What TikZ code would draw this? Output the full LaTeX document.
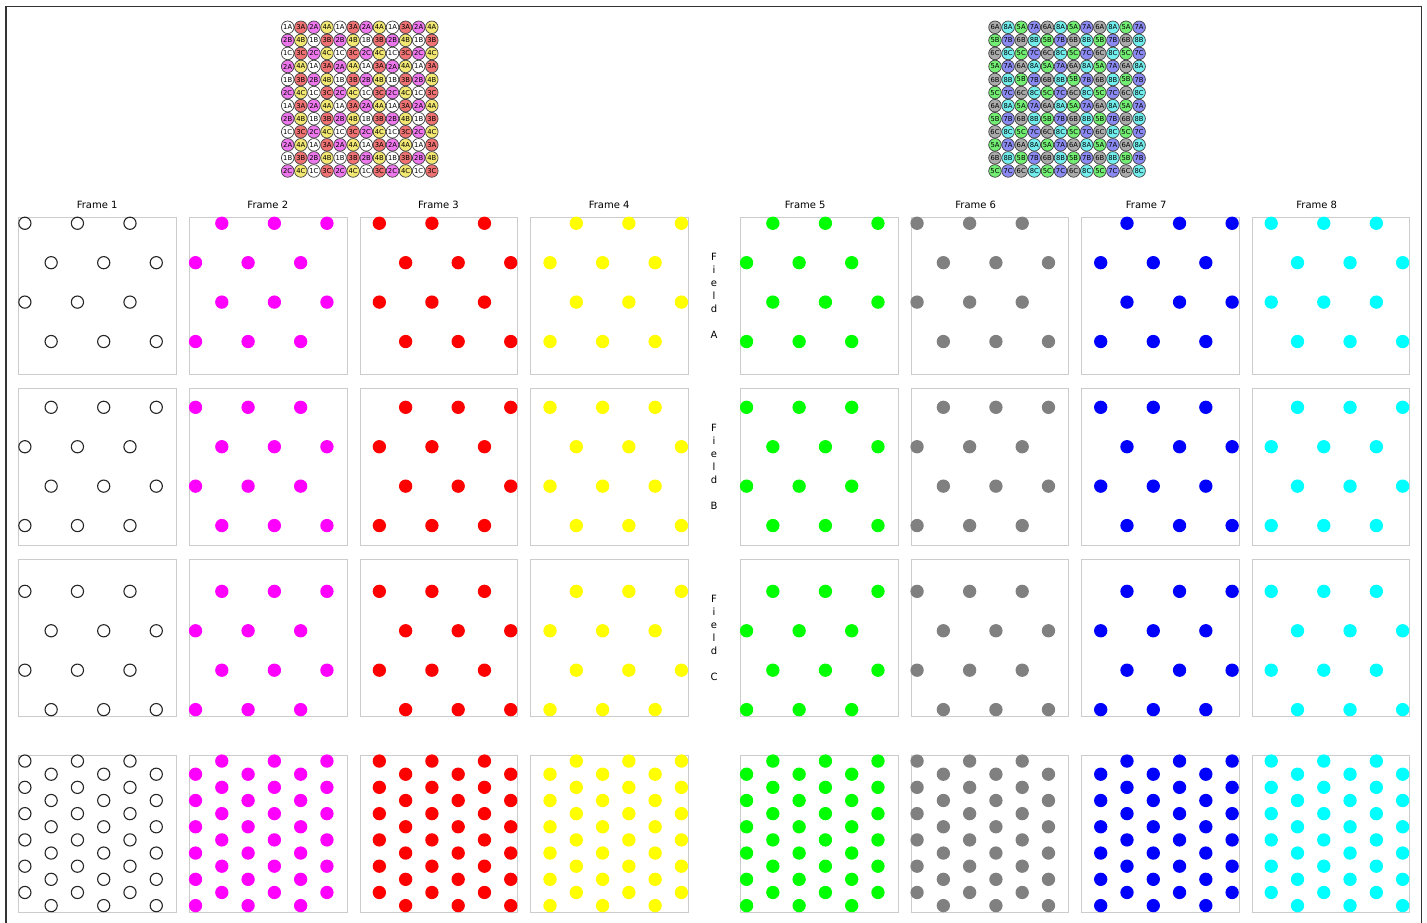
\documentclass[tikz,border=0pt]{standalone}
\usepackage{fontspec}
\setmainfont{DejaVu Sans}

% dot colours (plain RGB)
\definecolor{dotm}{RGB}{255,0,255}
\definecolor{dotr}{RGB}{255,0,0}
\definecolor{doty}{RGB}{255,255,0}
\definecolor{dotg}{RGB}{0,255,0}
\definecolor{dotk}{RGB}{128,128,128}
\definecolor{dotb}{RGB}{0,0,255}
\definecolor{dotc}{RGB}{0,255,255}
% cell colours of the two grids
\definecolor{cellw}{HTML}{FFFFFF}
\definecolor{cellm}{HTML}{EE77EE}
\definecolor{cellr}{HTML}{F07272}
\definecolor{celly}{HTML}{F2E872}
\definecolor{cellg}{HTML}{72EE72}
\definecolor{cellk}{HTML}{ABABAB}
\definecolor{cellb}{HTML}{8A8AF2}
\definecolor{cellc}{HTML}{72EEEE}

\begin{document}
\begin{tikzpicture}[x=1pt, y=-1pt,
    panel/.style={draw=black!20, line width=0.9pt, minimum width=157.7pt, minimum height=157.7pt, inner sep=0pt, anchor=north west},
    cell/.style={circle, draw=black!75, line width=0.7pt, minimum size=12.6pt, inner sep=0pt, font=\fontsize{6.8}{7}\selectfont},
    dot/.style={line width=1.1pt},
    heading/.style={font=\fontsize{10}{12}\selectfont, inner sep=0pt, anchor=base},
    fieldtag/.style={font=\fontsize{10}{13}\selectfont, align=center, inner sep=0pt},
]

\useasboundingbox (0,0) rectangle (1427,923);

% Window border
\draw[black!80, line width=1.5pt] (6,930) -- (6,6.7) -- (1421.5,6.7) -- (1421.5,930);

% Field tags
\foreach \k/\y in {A/295.7, B/466.6, C/637.5}
  \node[fieldtag] (field\k) at (714,\y) {F\\i\\e\\l\\d\\\mbox{}\\\k};

% Frames: panels, dots and the two cell grids on top
\foreach \f/\e/\dc/\dl/\tc in {1/0/white/black!85/cellw, 2/2/dotm/dotm/cellm,
    3/1/dotr/dotr/cellr, 4/3/doty/doty/celly, 5/2/dotg/dotg/cellg,
    6/0/dotk/dotk/cellk, 7/3/dotb/dotb/cellb, 8/1/dotc/dotc/cellc} {
  \pgfmathsetmacro\px{\f<5 ? 18.3+170.67*(\f-1) : 740+170.5*(\f-5)}
  \pgfmathsetmacro\hx{\f<5 ? \px+78.85 : 805.2+170.5*(\f-5)}
  \pgfmathsetmacro\gx{\f<5 ? 287.7 : 995}
  \node[heading] (t\f) at (\hx,208) {Frame \f};
  \foreach \k/\py in {A/216.7, B/387.6, C/558.5, S/754.5}
    \node[panel] (p\f\k) at (\px,\py) {};
  \foreach \r in {0,...,11} {
    \pgfmathtruncatemacro\off{mod(\e+2*mod(\r,2),4)}
    \pgfmathtruncatemacro\fk{mod(\r,3)}
    \foreach \j in {0,1,2} {
      \pgfmathsetmacro\cx{\px+13.14*(\off+4*\j+0.5)}
      \pgfmathsetmacro\fy{216.7+170.9*\fk+13.14*(\r+0.5)}
      \pgfmathsetmacro\sy{754.5+13.14*(\r+0.5)}
      \path[dot, fill=\dc, draw=\dl] (\cx,\fy) circle[radius=6.1] (\cx,\sy) circle[radius=6.1];
      \node[cell, fill=\tc] (c\f-\r-\j) at (\gx+13.1*\off+52.4*\j, 27.3+13.06*\r) {\f\ifcase\fk A\or B\or C\fi};
    }
  }
}

\end{tikzpicture}
\end{document}
